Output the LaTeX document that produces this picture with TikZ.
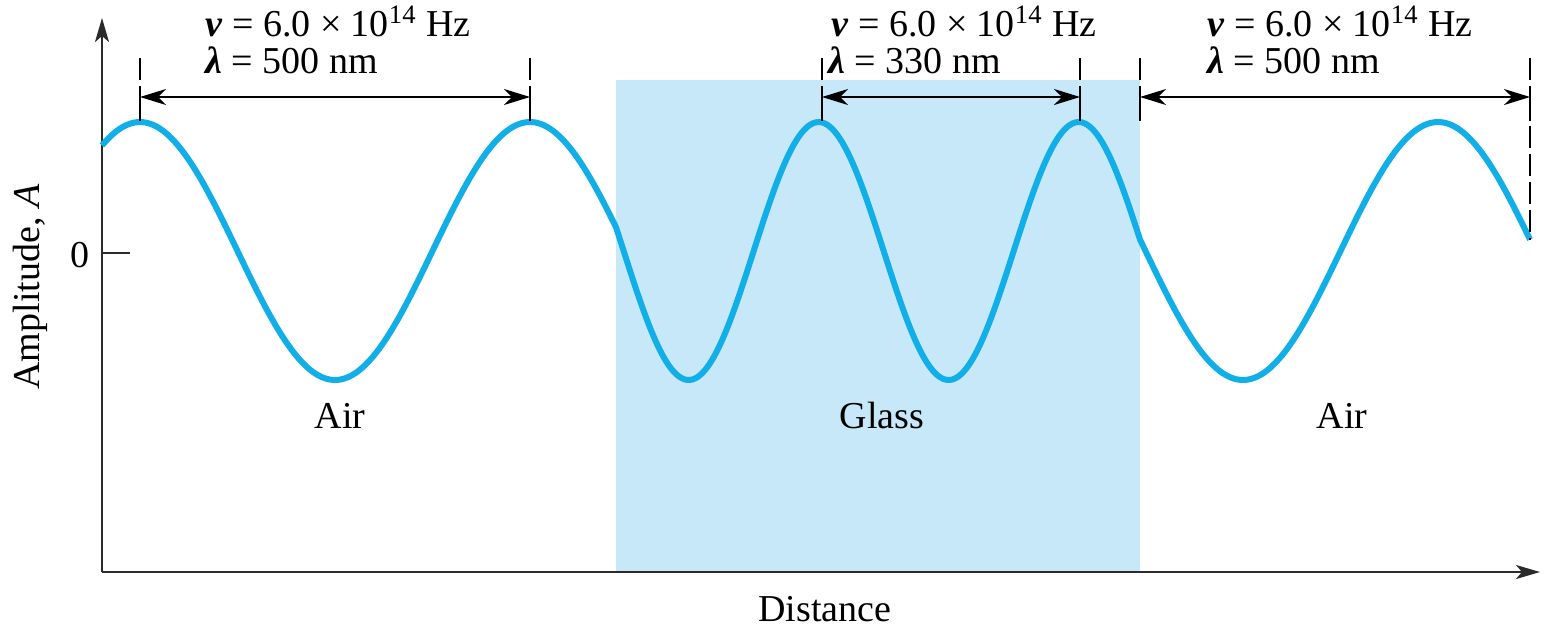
\documentclass[tikz,border=0pt]{standalone}
\usepackage{fontspec}
\setmainfont{Liberation Serif}
\usepackage{tikz}
\usetikzlibrary{positioning, arrows.meta, calc}
\definecolor{wavecyan}{HTML}{12AEE8}
\definecolor{glassblue}{HTML}{C6E8F8}
\definecolor{axisgray}{HTML}{2B2B2B}

\begin{document}
\begin{tikzpicture}[x=0.5pt, y=-0.5pt,
    every node/.style={font=\fontsize{19}{23}\selectfont, inner sep=0pt},
    dimline/.style={black, line width=0.8pt, {Stealth[length=13pt,width=8pt,inset=4pt]}-{Stealth[length=13pt,width=8pt,inset=4pt]}},
    tickline/.style={black, line width=0.8pt},
    tickdash/.style={black, line width=0.8pt, dash pattern=on 11pt off 3pt}]
    \useasboundingbox (0,0) rectangle (1550,628);
    % Glas: 616 .. 1140 px
    \fill[glassblue] (616,80) rectangle (1140,572);
    % Achsen
    \coordinate (orig) at (102,572);
    \coordinate (ytop) at (102,18);
    \coordinate (xend) at (1540,572);
    \draw[axisgray, line width=1pt, -{Stealth[length=12pt,width=7pt,inset=3pt]}] (orig) -- (ytop);
    \draw[axisgray, line width=1pt, -{Stealth[length=12pt,width=7pt,inset=3pt]}] (orig) -- (xend);
    \coordinate (zero) at (102,253);
    \draw[axisgray, line width=1pt] (zero) -- ++(28,0);
    \node[anchor=east] (zerolbl) at (90,255) {0};
    \node[rotate=90] (amplbl) at (30,287) {Amplitude, \textit{A}};
    \node[anchor=base] (distlbl) at (825,621) {Distance};
    % Welle: Luft lambda = 390 px (0.923 Grad/px), Glas lambda = 260 px (1.3846 Grad/px)
    \draw[wavecyan, line width=3pt, line join=round]
      plot[domain=102:616, samples=90, smooth] (\x, {251-129*cos(0.92308*(\x-140))})
      -- plot[domain=616:1140, samples=110, smooth] (\x, {251-129*cos(439.38+1.38462*(\x-616))})
      -- plot[domain=1140:1530, samples=70, smooth] (\x, {251-129*cos(1164.92+0.92308*(\x-1140))});
    % Markierungen
    \foreach \px/\nm in {140/a, 530/b, 822/c, 1080/d, 1140/e, 1530/f} {
      \coordinate (top\nm) at (\px,58);
      \coordinate (dim\nm) at (\px,97);
      \draw[tickdash] (top\nm) -- (\px,80);
      \draw[tickline] (\px,86) -- (\px,121);
    }
    \draw[tickdash] (1530,126) -- (1530,240);
    \draw[dimline] (dima) -- (dimb);
    \draw[dimline] (dimc) -- (dimd);
    \draw[dimline] (dime) -- (dimf);
    % Beschriftung
    \node[anchor=base west] (nuL) at (205,36) {\textbf{\textit{ν}} = 6.0 × 10\textsuperscript{14} Hz};
    \node[anchor=base west] (lamL) at (205,73) {\textbf{\textit{λ}} = 500 nm};
    \node[anchor=base west] (nuM) at (831,36) {\textbf{\textit{ν}} = 6.0 × 10\textsuperscript{14} Hz};
    \node[anchor=base west] (lamM) at (828,73) {\textbf{\textit{λ}} = 330 nm};
    \node[anchor=base west] (nuR) at (1207,36) {\textbf{\textit{ν}} = 6.0 × 10\textsuperscript{14} Hz};
    \node[anchor=base west] (lamR) at (1207,73) {\textbf{\textit{λ}} = 500 nm};
    \node[anchor=base] (airL) at (340,428) {Air};
    \node[anchor=base] (glass) at (882,428) {Glass};
    \node[anchor=base] (airR) at (1342,428) {Air};
  \end{tikzpicture}
\end{document}
